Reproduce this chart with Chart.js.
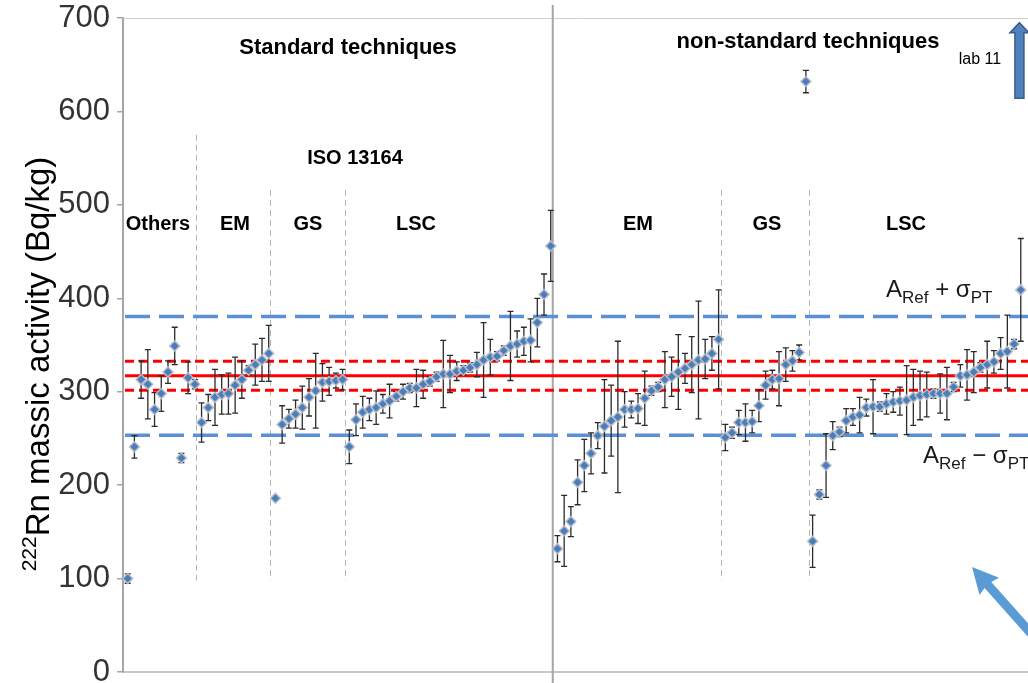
<!DOCTYPE html>
<html>
<head>
<meta charset="utf-8">
<title>222Rn massic activity</title>
<script src="https://cdn.jsdelivr.net/npm/chart.js@4.4.0/dist/chart.umd.min.js"></script>
<style>
    html, body { margin: 0; padding: 0; background: #fff; overflow: hidden; }
    #wrap { width: 1028px; height: 683px; overflow: hidden; }
</style>
</head>
<body>
<div id="wrap"><canvas id="chart" width="1036" height="683"></canvas></div>
<script>
// Results sorted inside each group (Others, EM, GS, LSC | EM, GS, LSC)
const stdValues = [
    100, 241, 313, 308, 281, 298, 321, 349, 229, 315, 308,            // Others
    267, 283, 294, 297, 298, 307, 313, 323, 329, 334, 341,            // EM
    186, 265, 271, 276, 283, 294, 301, 310, 311, 312, 313,            // GS
    241, 270, 278, 281, 283, 287, 290, 295, 300, 304, 304, 308, 311,  // LSC
    316, 319, 319, 322, 323, 326, 329, 334, 337, 338, 344, 349, 351,
    354, 355, 374, 404, 456
];
const stdUnc = [
    5, 12, 20, 37, 18, 19, 12, 20, 5, 17, 5,
    21, 14, 30, 21, 22, 30, 20, 5, 22, 23, 30,
    0, 20, 10, 15, 23, 20, 40, 20, 15, 8, 11,
    18, 17, 17, 12, 18, 10, 18, 5, 8, 5, 20, 15, 5,
    5, 36, 20, 10, 5, 5, 13, 40, 19, 5, 5, 37, 14,
    15, 23, 26, 22, 38
];
const nonStdValues = [
    132, 151, 161, 203, 221, 234, 253, 263, 269, 273, 281, 281, 282,  // EM
    293, 301, 305, 313, 316, 321, 325, 329, 334, 335, 341, 356,
    251, 256, 267, 267, 268, 285, 307, 313, 314, 329, 333, 342, 632,  // GS (lab 11 last)
    140, 190, 221, 253, 257, 269, 273, 275, 283, 284, 284, 287, 289,  // LSC
    290, 291, 294, 296, 297, 298, 298, 298, 305, 317, 318, 321, 326,
    329, 332, 341, 343, 351, 409
];
const nonStdUnc = [
    14, 38, 16, 24, 28, 22, 14, 50, 38, 81, 19, 9, 16,
    29, 5, 5, 30, 21, 40, 16, 30, 63, 21, 18, 53,
    14, 6, 13, 20, 12, 17, 15, 10, 29, 18, 11, 8, 12,
    28, 5, 34, 15, 5, 13, 9, 19, 9, 29, 5, 11, 11,
    15, 37, 30, 26, 24, 5, 21, 28, 5, 12, 27, 22, 5,
    25, 12, 17, 39, 5, 55
];
const yTicks = [0, 100, 200, 300, 400, 500, 600, 700];

const aRef = 317;
const sigmaPT = 63.5;
const uRef = 15.5;

const allValues = stdValues.concat(nonStdValues);
const allUnc = stdUnc.concat(nonStdUnc);
const points = allValues.map((v, i) => ({ x: i, y: v }));

const FONT = "'Liberation Sans', Arial, sans-serif";

// reference lines, group separators, error bars
const underlay = {
    id: 'underlay',
    beforeDatasetsDraw(chart) {
        const { ctx, chartArea: a, scales: { x, y } } = chart;
        ctx.save();

        // top border of plot area
        ctx.strokeStyle = '#d0d0d0';
        ctx.lineWidth = 1;
        ctx.beginPath();
        ctx.moveTo(a.left, a.top + 0.5);
        ctx.lineTo(a.right, a.top + 0.5);
        ctx.stroke();

        // dashed separators between technique groups
        ctx.strokeStyle = '#b4b4b4';
        ctx.lineWidth = 1;
        ctx.setLineDash([6, 4]);
        [[10.2, 575], [21.2, 516], [32.4, 516], [88.4, 516], [101.5, 516]].forEach(([sx, top]) => {
            const px = Math.round(x.getPixelForValue(sx)) + 0.5;
            ctx.beginPath();
            ctx.moveTo(px, y.getPixelForValue(top));
            ctx.lineTo(px, y.getPixelForValue(98));
            ctx.stroke();
        });
        ctx.setLineDash([]);

        // standard / non-standard split
        ctx.strokeStyle = '#a6a6a6';
        ctx.lineWidth = 2;
        const sp = x.getPixelForValue(63.3);
        ctx.beginPath();
        ctx.moveTo(sp, 5);
        ctx.lineTo(sp, chart.height);
        ctx.stroke();

        // A_ref +/- sigma_PT (blue) and A_ref +/- u (red)
        const hline = (val, color, dash, w) => {
            ctx.strokeStyle = color;
            ctx.lineWidth = w;
            ctx.setLineDash(dash);
            ctx.beginPath();
            ctx.moveTo(a.left + 2, y.getPixelForValue(val));
            ctx.lineTo(a.right, y.getPixelForValue(val));
            ctx.stroke();
        };
        hline(aRef + sigmaPT, '#5b8fd6', [25, 9], 3.5);
        hline(aRef - sigmaPT, '#5b8fd6', [25, 9], 3.5);
        hline(aRef + uRef, '#ff0000', [9, 5], 3);
        hline(aRef - uRef, '#ff0000', [9, 5], 3);
        hline(aRef, '#ff0000', [], 3);
        ctx.setLineDash([]);

        // error bars
        ctx.strokeStyle = '#2b2b2b';
        ctx.lineWidth = 1.3;
        allValues.forEach((v, i) => {
            const u = allUnc[i];
            if (!u) return;
            const px = x.getPixelForValue(i);
            const t = y.getPixelForValue(v + u);
            const b = y.getPixelForValue(v - u);
            ctx.beginPath();
            ctx.moveTo(px, t); ctx.lineTo(px, b);
            ctx.moveTo(px - 3, t); ctx.lineTo(px + 3, t);
            ctx.moveTo(px - 3, b); ctx.lineTo(px + 3, b);
            ctx.stroke();
        });
        ctx.restore();
    }
};

// labels, axis title and arrows
const overlay = {
    id: 'overlay',
    afterDraw(chart) {
        const { ctx, scales: { x, y } } = chart;
        ctx.save();
        ctx.fillStyle = '#000';
        ctx.textAlign = 'center';
        ctx.textBaseline = 'middle';

        ctx.font = `bold 22px ${FONT}`;
        ctx.fillText('Standard techniques', 348, 48);
        ctx.fillText('non-standard techniques', 808, 42);
        ctx.font = `bold 20px ${FONT}`;
        ctx.fillText('ISO 13164', 355, 158);
        [['Others', 158], ['EM', 235], ['GS', 308], ['LSC', 416],
         ['EM', 638], ['GS', 767], ['LSC', 906]].forEach(([t, px]) => ctx.fillText(t, px, 224));

        ctx.font = `16px ${FONT}`;
        ctx.fillText('lab 11', 980, 60);

        // A_Ref ± sigma_PT labels
        const refLabel = (sign, px, py) => {
            ctx.textAlign = 'left';
            ctx.textBaseline = 'alphabetic';
            ctx.fillStyle = '#1a1a1a';
            const parts = [['A', 24, 0], ['Ref', 17, 6], [' ' + sign + ' ', 24, 0], ['σ', 24, 0], ['PT', 17, 6]];
            parts.forEach(([t, s, dy]) => {
                ctx.font = `${s}px ${FONT}`;
                ctx.fillText(t, px, py + dy);
                px += ctx.measureText(t).width;
            });
        };
        refLabel('+', 886, 297);
        refLabel('\u2212', 923, 463);

        // y axis title
        ctx.save();
        ctx.translate(40, 364);
        ctx.rotate(-Math.PI / 2);
        ctx.fillStyle = '#000';
        ctx.textBaseline = 'middle';
        ctx.font = `21px ${FONT}`;
        const supW = ctx.measureText('222').width;
        ctx.font = `33px ${FONT}`;
        const main = 'Rn massic activity (Bq/kg)';
        const mainW = ctx.measureText(main).width;
        let sx = -(supW + mainW) / 2;
        ctx.textAlign = 'left';
        ctx.font = `21px ${FONT}`;
        ctx.fillText('222', sx, -10);
        ctx.font = `33px ${FONT}`;
        ctx.fillText(main, sx + supW, 0);
        ctx.restore();

        // lab 11 arrow (value off scale)
        const ax = x.getPixelForValue(132.8);
        const tip = y.getPixelForValue(695);
        const base = y.getPixelForValue(614);
        ctx.fillStyle = '#4f81bd';
        ctx.strokeStyle = '#385d8a';
        ctx.lineWidth = 1.5;
        ctx.beginPath();
        ctx.moveTo(ax, tip);
        ctx.lineTo(ax + 9.5, tip + 10);
        ctx.lineTo(ax + 4.5, tip + 10);
        ctx.lineTo(ax + 4.5, base);
        ctx.lineTo(ax - 4.5, base);
        ctx.lineTo(ax - 4.5, tip + 10);
        ctx.lineTo(ax - 9.5, tip + 10);
        ctx.closePath();
        ctx.fill();
        ctx.stroke();

        // pointer arrow, bottom right
        const tx = 972, ty = 567;
        const ang = Math.atan2(63, 56);
        ctx.translate(tx, ty);
        ctx.rotate(ang);
        ctx.fillStyle = '#5b9bd5';
        ctx.beginPath();
        ctx.moveTo(0, 0);
        ctx.lineTo(26, 13);
        ctx.lineTo(24, 4.5);
        ctx.lineTo(140, 4.5);
        ctx.lineTo(140, -4.5);
        ctx.lineTo(24, -4.5);
        ctx.lineTo(26, -13);
        ctx.closePath();
        ctx.fill();
        ctx.restore();
    }
};

new Chart(document.getElementById('chart'), {
    type: 'scatter',
    data: {
        datasets: [{
            label: '222Rn',
            data: points,
            pointStyle: 'rectRot',
            pointRadius: 5,
            pointHoverRadius: 5,
            backgroundColor: '#4a7ebb',
            borderColor: 'rgba(185, 190, 200, 0.95)',
            borderWidth: 1.5
        }]
    },
    options: {
        responsive: false,
        animation: false,
        events: [],
        layout: { padding: { top: 18, bottom: 11, left: 0, right: 0 } },
        plugins: {
            legend: { display: false },
            tooltip: { enabled: false }
        },
        scales: {
            x: {
                type: 'linear',
                min: -0.7,
                max: 134.3,
                ticks: { display: false },
                grid: { display: false, drawTicks: false },
                border: { display: true, color: '#c8c8c8', width: 2 },
                afterFit(s) { s.height = 0; s.paddingLeft = 0; s.paddingRight = 0; }
            },
            y: {
                min: 0,
                max: 700,
                afterBuildTicks(s) { s.ticks = yTicks.map(v => ({ value: v })); },
                ticks: { color: '#333', padding: 7, font: { family: FONT, size: 31 } },
                grid: { display: true, drawOnChartArea: false, drawTicks: true, tickLength: 6, color: '#a6a6a6', lineWidth: 1.5 },
                border: { display: true, color: '#a6a6a6', width: 2 },
                afterFit(s) { s.width = 123; s.paddingTop = 0; s.paddingBottom = 0; }
            }
        }
    },
    plugins: [underlay, overlay]
});
</script>
</body>
</html>
